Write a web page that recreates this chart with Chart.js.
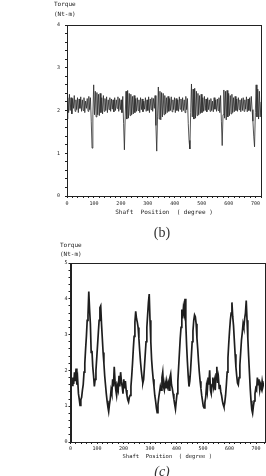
<!DOCTYPE html>
<html><head><meta charset="utf-8">
<script src="https://cdn.jsdelivr.net/npm/chart.js@4/dist/chart.umd.min.js"></script>
<style>
html,body{margin:0;padding:0;background:#fff;}
body{width:266px;height:476px;overflow:hidden;position:relative;}
.box{position:absolute;}
.lbl{position:absolute;font-family:"DejaVu Sans Mono",monospace;font-size:6px;line-height:6px;color:#222;white-space:pre;}
.cap{position:absolute;font-family:"Liberation Serif",serif;font-size:14px;line-height:14px;color:#333;width:40px;text-align:center;}
</style></head>
<body>
<div class="box" style="left:0;top:0;width:266px;height:226px"><canvas id="c1"></canvas></div>
<div class="box" style="left:0;top:236px;width:266px;height:240px"><canvas id="c2"></canvas></div>
<div class="lbl" style="left:54px;top:1px">Torque</div>
<div class="lbl" style="left:54px;top:11px">(Nt-m)</div>
<div class="cap" style="left:142px;top:226px">(b)</div>
<div class="lbl" style="left:60px;top:242px">Torque</div>
<div class="lbl" style="left:60px;top:251px">(Nt-m)</div>
<div class="cap" style="left:142px;top:465px;font-style:italic">(c)</div>
<script>
// sampling step of the traces, in degrees
const stepDeg = 3;
// (b) torque, Nt-m, every 3 degrees from 0 to 720
const torqueB = [
1.80,2.30,1.95,2.38,2.00,2.30,1.92,2.28,2.05,2.35,
1.98,2.25,2.02,2.30,1.95,2.27,2.05,2.32,1.98,2.25,
2.00,2.30,1.95,2.22,2.05,2.28,1.98,2.33,2.02,2.30,
1.75,1.12,1.90,2.60,1.90,2.45,1.85,2.42,1.90,2.38,
1.88,2.40,1.95,2.30,1.92,2.35,1.98,2.28,2.00,2.32,
1.95,2.25,2.02,2.30,1.98,2.27,2.03,2.25,1.97,2.30,
2.00,2.25,2.05,2.32,1.98,2.28,2.02,2.25,1.95,2.33,
1.70,1.08,1.85,2.45,1.80,2.47,1.82,2.40,1.88,2.38,
1.90,2.33,1.92,2.35,1.95,2.28,1.98,2.30,2.00,2.25,
1.95,2.30,2.02,2.27,1.97,2.22,2.03,2.30,1.98,2.25,
2.00,2.32,1.95,2.27,2.02,2.30,1.98,2.28,2.05,2.35,
1.65,1.05,1.85,2.55,1.80,2.45,1.78,2.42,1.85,2.40,
1.90,2.35,1.92,2.30,1.95,2.33,1.98,2.28,2.00,2.32,
1.97,2.25,2.02,2.30,1.95,2.28,2.00,2.25,1.98,2.32,
2.03,2.27,1.97,2.30,2.00,2.25,1.95,2.33,2.02,2.28,
1.70,1.30,1.10,1.95,2.62,1.85,2.50,1.80,2.52,1.82,
2.45,1.88,2.40,1.90,2.35,1.93,2.38,1.95,2.30,1.98,
2.33,2.00,2.27,1.97,2.30,2.02,2.25,1.98,2.28,2.00,
2.22,1.97,2.30,2.03,2.25,1.98,2.27,2.00,2.30,1.95,
2.35,1.75,1.18,1.90,2.48,1.82,2.45,1.78,2.47,1.85,
2.40,1.88,2.35,1.92,2.38,1.95,2.30,1.97,2.33,2.00,
2.27,1.98,2.30,2.02,2.25,1.97,2.28,2.00,2.30,1.98,
2.25,2.03,2.32,1.97,2.27,2.00,2.30,1.98,2.33,2.02,
1.75,1.40,1.15,1.95,2.60,1.85,2.50,1.80,2.45,1.85,
2.20
];
// (c) torque, Nt-m, every 3 degrees from 0 to 729
const torqueC = [
1.55,1.70,1.58,1.80,1.62,1.95,1.70,2.05,1.60,1.75,
1.35,1.20,1.02,1.18,1.25,1.45,1.60,1.95,2.20,2.60,
2.95,3.40,3.55,4.20,3.70,3.30,2.50,2.55,2.10,1.85,
1.55,1.75,2.00,2.35,2.70,3.05,3.40,3.75,3.80,3.30,
2.90,2.50,2.20,1.85,1.60,1.35,1.15,0.98,0.85,1.05,
1.20,1.45,1.35,1.75,1.55,2.10,1.70,1.45,1.30,1.55,
1.45,1.85,1.55,1.95,1.70,1.55,1.35,1.75,1.50,1.70,
1.45,1.30,1.18,1.12,1.25,1.30,1.55,1.85,2.20,2.60,
2.95,3.35,3.65,3.45,3.35,3.20,2.90,2.55,2.25,2.00,
1.80,1.65,1.75,2.10,2.45,2.80,3.20,3.55,3.90,4.13,
3.40,2.80,2.30,2.00,1.75,1.55,1.30,1.15,0.95,0.82,
1.05,1.25,1.40,1.55,1.45,1.80,1.95,1.55,1.45,1.65,
1.50,1.70,1.55,1.65,1.45,1.80,1.90,1.60,1.50,1.35,
1.20,1.05,0.92,1.15,1.35,1.70,2.10,2.50,2.90,3.20,
3.70,3.45,3.75,3.60,4.00,3.30,2.70,2.25,1.85,1.55,
1.70,2.00,2.40,2.80,3.10,3.40,3.55,3.50,3.30,2.90,
2.60,2.25,1.95,1.70,1.50,1.30,1.15,1.00,0.95,1.10,
1.25,1.55,1.40,1.80,1.60,2.00,1.45,1.35,1.60,1.80,
1.55,1.70,1.45,1.90,2.10,1.65,1.80,1.50,1.60,1.40,
1.30,1.15,1.05,0.98,1.10,1.30,1.60,1.95,2.35,2.75,
3.10,3.40,3.60,3.90,3.50,3.25,2.85,2.45,2.10,1.85,
1.65,1.60,1.80,2.15,2.50,2.85,3.05,3.30,3.20,3.45,
3.60,3.95,3.40,2.90,2.40,1.95,1.50,1.15,0.90,0.80,
1.00,1.15,1.35,1.50,1.45,1.80,1.60,1.75,1.45,1.60,
1.50,1.70,1.55,1.65
];
const xTickStep = 20, xLabelEvery = 100;
const axisTitle = 'Shaft  Position  ( degree )';

const ink = '#222';
const frame = {id:'frame', afterDatasetsDraw(c){
  const a=c.chartArea, ctx=c.ctx; ctx.save(); ctx.strokeStyle=ink; ctx.lineWidth=1;
  ctx.strokeRect(Math.round(a.left)+0.5, Math.round(a.top)+0.5, Math.round(a.right-a.left), Math.round(a.bottom-a.top));
  ctx.restore();
}};

function pts(arr){ return arr.map((v,i)=>({x:i*stepDeg, y:v})); }

function make(id, data, o){
  new Chart(document.getElementById(id), {
    type:'line',
    data:{datasets:[{data:pts(data), borderColor:o.color, borderWidth:o.lw, pointRadius:0, tension:0, fill:false}]},
    plugins:[frame],
    options:{
      responsive:true, maintainAspectRatio:false, animation:false,
      layout:{padding:{top:o.padTop, right:o.padRight, left:0, bottom:o.padBottom}},
      plugins:{legend:{display:false}, tooltip:{enabled:false}},
      scales:{
        x:{type:'linear', min:0, max:o.xMax,
          afterFit:s=>{s.height=o.xH;},
          ticks:{stepSize:xTickStep, autoSkip:false, maxRotation:0, color:ink, padding:o.xPad,
            font:{family:'DejaVu Sans Mono', size:5},
            callback:v=> (v % xLabelEvery === 0 ? String(v) : '')},
          grid:{drawOnChartArea:false, drawTicks:true, tickLength:2, color:ink},
          border:{display:true, color:ink},
          title:{display:true, text:axisTitle, color:ink, padding:{top:o.tPad,bottom:0},
            font:{family:'DejaVu Sans Mono', size:o.tSize}}
        },
        y:{min:0, max:o.yMax,
          afterFit:s=>{s.width=o.yW;},
          ticks:{stepSize:0.2, autoSkip:false, color:ink, padding:o.yPad,
            font:{family:'DejaVu Sans Mono', size:5},
            callback:v=> (Math.abs(v-Math.round(v))<1e-6 ? String(Math.round(v)) : '')},
          grid:{drawOnChartArea:false, drawTicks:true, tickLength:2, color:ink},
          border:{display:true, color:ink}
        }
      }
    }
  });
}

make('c1', torqueB, {color:'#2a2a2a', lw:0.8, xMax:720, yMax:4, padTop:25, padRight:5, padBottom:10, xH:20, yW:67, xPad:3, yPad:5, tPad:1, tSize:6});
make('c2', torqueC, {color:'#1e1e1e', lw:1.7, xMax:730, yMax:5, padTop:27, padRight:1, padBottom:16, xH:18, yW:70.5, xPad:2, yPad:1, tPad:1, tSize:5.5});
</script>
</body></html>
